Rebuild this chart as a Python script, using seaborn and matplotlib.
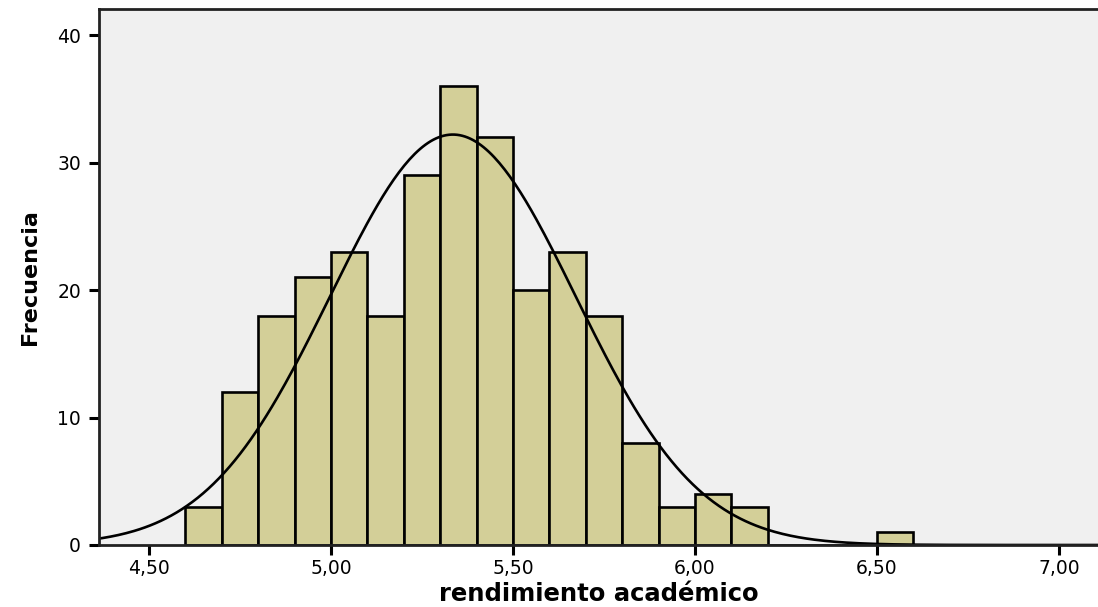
import numpy as np
import pandas as pd
import matplotlib
matplotlib.use("Agg")
import matplotlib.pyplot as plt
import seaborn as sns

# histogram bins (left edges, width 0.1) and counts
bin_left = [4.6, 4.7, 4.8, 4.9, 5.0, 5.1, 5.2, 5.3, 5.4, 5.5, 5.6, 5.7, 5.8, 5.9, 6.0, 6.1, 6.5]
counts = [3, 12, 18, 21, 23, 18, 29, 36, 32, 20, 23, 18, 8, 3, 4, 3, 1]
bin_width = 0.1

# fitted normal curve parameters
mean_val = 5.335
sd_val = 0.337

xticks = [4.5, 5.0, 5.5, 6.0, 6.5, 7.0]
xtick_labels = ["4,50", "5,00", "5,50", "6,00", "6,50", "7,00"]
yticks = [0, 10, 20, 30, 40]

sns.set_style("white")
plt.rcParams['font.family'] = ['DejaVu Sans']
plt.rcParams['text.color'] = 'black'

df = pd.DataFrame({"mid": [b + bin_width / 2 for b in bin_left], "freq": counts})

fig = plt.figure(figsize=(10.98, 6.07), dpi=100)
ax = fig.add_axes([99/1098, 1 - 545/607, 1 - 99/1098, (545 - 9)/607])
ax.set_facecolor('#f0f0f0')

sns.histplot(data=df, x="mid", weights="freq", binwidth=bin_width, binrange=(4.6, 6.6),
             color='#d3cf98', edgecolor='black', linewidth=1.9, alpha=1, ax=ax)

xs = np.linspace(4.3, 7.2, 400)
n = sum(counts)
ys = n * bin_width / (sd_val * np.sqrt(2 * np.pi)) * np.exp(-0.5 * ((xs - mean_val) / sd_val) ** 2)
sns.lineplot(x=xs, y=ys, color='black', linewidth=1.9, ax=ax)

ax.set_xlim(4.363, 7.107)
ax.set_ylim(0, 42.05)
ax.set_xticks(xticks)
ax.set_xticklabels(xtick_labels, fontsize=13.5, color='black')
ax.set_yticks(yticks)
ax.set_yticklabels([str(v) for v in yticks], fontsize=13.5, color='black')
ax.tick_params(axis='both', direction='out', length=7, width=2.2, color='black',
               bottom=True, left=True)
ax.tick_params(axis='x', pad=3)
ax.tick_params(axis='y', pad=6)

for s in ['left', 'top', 'bottom']:
    ax.spines[s].set_color('#222222')
    ax.spines[s].set_linewidth(2)
ax.spines['right'].set_visible(False)

ax.set_xlabel("rendimiento académico", fontsize=17.5, fontweight='bold',
              color='black', labelpad=3)
ax.set_ylabel("Frecuencia", fontsize=16, fontweight='bold', color='black', labelpad=12)

fig.savefig("out.png", dpi=100)
